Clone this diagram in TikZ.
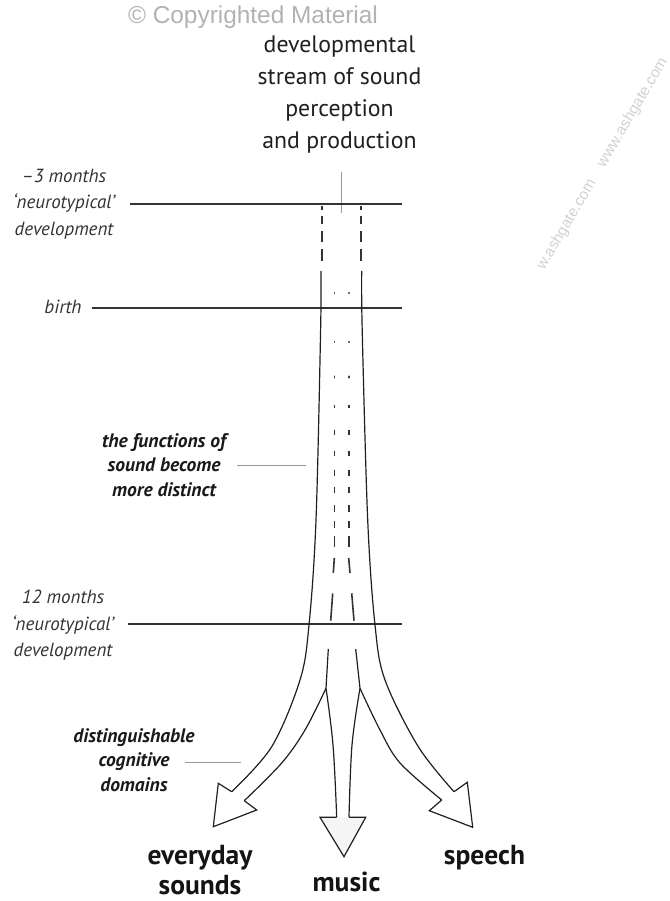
\documentclass[tikz,border=0pt]{standalone}
\usepackage{fontspec}
\setmainfont{PT Sans}
\newfontfamily\wmfont{Liberation Sans}
\begin{document}
\begin{tikzpicture}[x=1pt,y=-1pt,
  ink/.style={draw=black!88, line width=1.2pt},
  timerule/.style={draw=black!80, line width=2pt},
  leader/.style={draw=black!40, line width=1pt},
  lane/.style={draw=black!80, line width=1.6pt},
  dotmark/.style={draw=black!75, line width=1.5pt, line cap=round},
  period/.style={font=\fontsize{19}{26.5}\selectfont\itshape, align=center, text=black!80},
  sidenote/.style={font=\fontsize{19.5}{24.5}\selectfont\bfseries\itshape, align=center, text=black!90},
  outcome/.style={font=\fontsize{27.5}{29.5}\selectfont\bfseries, align=center, text=black!92, inner sep=0pt},
  heading/.style={font=\fontsize{23.8}{32}\selectfont, align=center, text=black!88}]
\useasboundingbox (0,0) rectangle (669,901);

% faint publisher marks
\node[font=\wmfont\fontsize{24.4}{26}\selectfont, text=black!30] (wm) at (253,17) {© Copyrighted Material};
\node[font=\wmfont\fontsize{15.3}{17}\selectfont, text=black!18, rotate=59.5] (wm2) at (602.5,164) {w.ashgate.com\hspace{1.1em}www.ashgate.com};

% heading of the stream
\node[heading] (title) at (339.5,95) {developmental\\stream of sound\\perception\\and production};
\coordinate (titlefoot) at (341,172);
\coordinate (streamtop) at (341,213);
\draw[leader] (titlefoot) -- (streamtop);

% time markers
\node[period] (pre) at (64,203.8) {–3 months\\‘neurotypical’\\development};
\node[period] (birth) at (63,306.5) {birth};
\node[period] (twelve) at (63,625.5) {12 months\\‘neurotypical’\\development};
\coordinate (preL) at (130,204);   \coordinate (preR) at (402,204);
\coordinate (birthL) at (92,308);  \coordinate (birthR) at (402,308);
\coordinate (twL) at (128,624);    \coordinate (twR) at (402,624);
\draw[timerule] (preL) -- (preR);
\draw[timerule] (birthL) -- (birthR);
\draw[timerule] (twL) -- (twR);

% side notes
\node[sidenote] (fun) at (164,465) {the functions of\\sound become\\more distinct};
\coordinate (funA) at (237,465); \coordinate (funB) at (306,465);
\draw[leader] (funA) -- (funB);
\node[sidenote] (dist) at (134,760) {distinguishable\\cognitive\\domains};
\coordinate (distA) at (184.6,762.3); \coordinate (distB) at (240.7,762.3);
\draw[leader] (distA) -- (distB);

% prenatal part of the stream: dashed walls
\foreach \a/\b in {206/210, 216/224.3, 230.7/241.7, 249.3/260.7}{
  \draw[lane] (322,\a) -- (322,\b);
  \draw[lane] (360.7,\a) -- (360.7,\b);
}

% outer walls of the stream
\draw[ink] plot[smooth, tension=0.55] coordinates {(321,271) (320.6,330) (316,520) (309,625) (300,680) (271.7,746.7) (231.7,791.7)};
\draw[ink] plot[smooth, tension=0.55] coordinates {(361.7,271) (362.2,330) (367.7,520) (375,625) (385,680) (418.3,746.7) (454,791.7)};

% inner lanes: dots growing into dashes
\foreach \y/\s in {293/0.2, 342/0.3, 377/0.8}{
  \draw[dotmark] (334.3,\y-\s) -- (334.3,\y+\s);
  \draw[dotmark] (349,\y-\s) -- (349,\y+\s);
}
\foreach \y/\l in {406/3, 432/5, 453/5, 473/6, 490/6, 508/7, 524/7, 541/11}{
  \draw[lane] (334.3,\y-\l/2) -- (334.3,\y+\l/2);
  \draw[lane] (349,\y-\l/2) -- (349,\y+\l/2);
}
\draw[lane] (334.3,558) -- (333.3,573);
\draw[lane] (348.7,558) -- (350,573);
\draw[lane] (332.7,593.3) -- (330.7,620.7);
\draw[lane] (351.7,593.3) -- (354,620.7);

% branching after twelve months
\coordinate (forkL) at (326,688.3);
\coordinate (forkR) at (360,688.3);
\draw[ink] (328.3,649) -- (forkL);
\draw[ink] (355.7,649) -- (forkR);
\draw[ink] plot[smooth, tension=0.55] coordinates {(forkL) (305,730) (281.7,763) (244.3,800.7)};
\draw[ink] plot[smooth, tension=0.55] coordinates {(forkR) (380,730) (400,763) (441.7,800)};
\draw[ink] plot[smooth, tension=0.6] coordinates {(forkL) (333,745) (336.7,817.3)};
\draw[ink] plot[smooth, tension=0.6] coordinates {(forkR) (352,745) (349,817.3)};

% arrow heads
\draw[ink, line join=miter] (231.7,791.7) -- (218.3,783.3) -- (213.3,826.7) -- (256.7,810) -- (244.3,800.7);
\draw[ink, line join=miter, fill=black!4] (336.7,817.3) -- (320,817.3) -- (344,856.7) -- (365.7,817.3) -- (349,817.3);
\draw[ink, line join=miter] (441.7,800) -- (429.3,810.7) -- (472.7,827.3) -- (467.3,782.3) -- (454,791.7);

% the three domains
\node[outcome] (everyday) at (200,870) {everyday\\sounds};
\node[outcome] (music) at (346.5,882) {music};
\node[outcome] (speech) at (484.5,858) {speech};
\end{tikzpicture}
\end{document}
